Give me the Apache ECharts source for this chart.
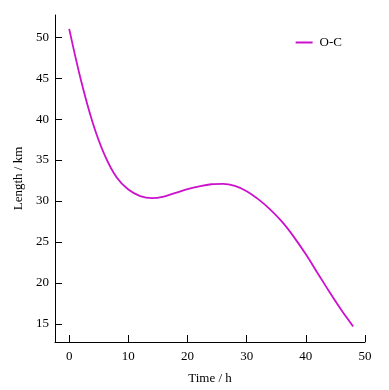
<!DOCTYPE html>
<html>
<head>
<meta charset="utf-8">
<script src="https://cdn.jsdelivr.net/npm/echarts@6/dist/echarts.min.js"></script>
<style>
html,body{margin:0;padding:0;background:#fff;}
#chart{width:389px;height:390px;}
</style>
</head>
<body>
<div id="chart"></div>
<script>
// O-C curve
var timeH = [0, 2, 4, 6, 8, 10, 12, 14, 16, 18, 20, 22, 24, 26, 28, 30, 32, 34, 36, 38, 40, 42, 44, 46, 48];
var lengthKm = [51, 44.7, 39.5, 35.6, 32.9, 31.4, 30.6, 30.35, 30.55, 31.0, 31.45, 31.8, 32.05, 32.1, 31.85, 31.2, 30.2, 28.95, 27.45, 25.6, 23.5, 21.2, 18.9, 16.7, 14.7];
var xTicks = [0, 10, 20, 30, 40, 50];
var yTicks = [15, 20, 25, 30, 35, 40, 45, 50];

var lineColor = '#cc11cc';
var font = 'Liberation Serif';

var chart = echarts.init(document.getElementById('chart'));
chart.setOption({
	backgroundColor: '#fff',
	animation: false,
	textStyle: {fontFamily: font},
	grid: {left: 55, top: 15, right: 24, bottom: 46},
	legend: {
		right: 42,
		top: 31,
		icon: 'rect',
		itemWidth: 17,
		itemHeight: 2,
		itemGap: 6,
		textStyle: {fontFamily: font, fontSize: 13, color: '#000', padding: [0, 0, 0, 2]},
		data: ['O-C']
	},
	xAxis: {
		type: 'value',
		min: -2.4,
		max: 50,
		name: 'Time / h',
		nameLocation: 'middle',
		nameGap: 30,
		nameTextStyle: {fontFamily: font, fontSize: 13, color: '#000'},
		splitLine: {show: false},
		axisLine: {onZero: false, lineStyle: {color: '#000', width: 1}},
		axisTick: {inside: true, length: 7, customValues: xTicks, lineStyle: {color: '#000'}},
		axisLabel: {customValues: xTicks, margin: 8, fontFamily: font, fontSize: 13, color: '#000'}
	},
	yAxis: {
		type: 'value',
		min: 12.8,
		max: 52.7,
		name: 'Length / km',
		nameLocation: 'middle',
		nameGap: 29,
		nameTextStyle: {fontFamily: font, fontSize: 13, color: '#000'},
		splitLine: {show: false},
		axisLine: {show: true, onZero: false, lineStyle: {color: '#000', width: 1}},
		axisTick: {show: true, inside: true, length: 7, customValues: yTicks, lineStyle: {color: '#000'}},
		axisLabel: {customValues: yTicks, margin: 6, fontFamily: font, fontSize: 13, color: '#000'}
	},
	series: [{
		name: 'O-C',
		type: 'line',
		smooth: 0.35,
		symbol: 'none',
		lineStyle: {color: lineColor, width: 1.8},
		itemStyle: {color: lineColor},
		data: timeH.map(function(t, i){ return [t, lengthKm[i]]; })
	}]
});
</script>
</body>
</html>
